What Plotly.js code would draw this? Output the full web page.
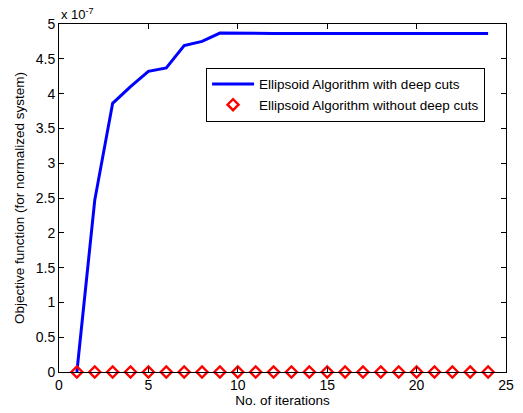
<!DOCTYPE html>
<html>
<head>
<meta charset="utf-8">
<script src="https://cdn.plot.ly/plotly-3.0.1.min.js"></script>
<style>
  html, body { margin: 0; padding: 0; background: #fff; }
  #chart { width: 523px; height: 413px; }
</style>
</head>
<body>
<div id="chart"></div>
<script>
// Iteration numbers
var iterations = [1, 2, 3, 4, 5, 6, 7, 8, 9, 10, 11, 12, 13, 14, 15, 16, 17, 18, 19, 20, 21, 22, 23, 24];
// Objective function values, in units of 1e-7
var deepCuts = [0, 2.47, 3.86, 4.10, 4.32, 4.37, 4.69, 4.75, 4.87, 4.865, 4.865, 4.865, 4.865, 4.865, 4.865, 4.865, 4.865, 4.865, 4.865, 4.865, 4.865, 4.865, 4.865, 4.865];
var noDeepCuts = [0, 0, 0, 0, 0, 0, 0, 0, 0, 0, 0, 0, 0, 0, 0, 0, 0, 0, 0, 0, 0, 0, 0, 0];
var yTickVals = [0, 0.5, 1, 1.5, 2, 2.5, 3, 3.5, 4, 4.5, 5];
var yTickText = ['0', '0.5', '1', '1.5', '2', '2.5', '3', '3.5', '4', '4.5', '5'];
var xTickVals = [0, 5, 10, 15, 20, 25];

var font = 'Liberation Sans, Arial, Helvetica, sans-serif';

var traces = [
  {
    x: iterations, y: deepCuts,
    type: 'scatter', mode: 'lines',
    name: 'Ellipsoid Algorithm with deep cuts',
    line: { color: '#0000ff', width: 3 },
    cliponaxis: false
  },
  {
    x: iterations, y: noDeepCuts,
    type: 'scatter', mode: 'markers',
    name: 'Ellipsoid Algorithm without deep cuts',
    marker: { symbol: 'diamond-open', size: 8.5, color: '#ff0000', line: { color: '#ff0000', width: 2.4 } },
    cliponaxis: false
  }
];

var axisCommon = {
  showgrid: false, zeroline: false,
  showline: true, linecolor: '#000', linewidth: 1,
  mirror: 'ticks', ticks: 'inside', ticklen: 5, tickcolor: '#000', tickwidth: 1,
  tickfont: { family: font, size: 14, color: '#000' }
};

var layout = {
  width: 523, height: 413,
  margin: { l: 59, r: 17, t: 24, b: 41 },
  paper_bgcolor: '#fff', plot_bgcolor: '#fff',
  font: { family: font, color: '#000' },
  xaxis: Object.assign({}, axisCommon, {
    range: [0, 25], tickvals: xTickVals,
    title: { text: 'No. of iterations', font: { family: font, size: 13.5 }, standoff: 1 }
  }),
  yaxis: Object.assign({}, axisCommon, {
    range: [0, 5], tickvals: yTickVals, ticktext: yTickText,
    title: { text: 'Objective function (for normalized system)', font: { family: font, size: 13.5 }, standoff: 8 }
  }),
  showlegend: true,
  legend: {
    x: 0.329, y: 0.874, xanchor: 'left', yanchor: 'top',
    bgcolor: '#fff', bordercolor: '#000', borderwidth: 1,
    font: { family: font, size: 13.5, color: '#000' },
    itemwidth: 42,
    tracegroupgap: 0
  },
  annotations: [{
    xref: 'paper', yref: 'paper', x: 0, y: 1, xanchor: 'left', yanchor: 'bottom',
    yshift: 0,
    text: 'x 10<sup>-7</sup>', showarrow: false,
    font: { family: font, size: 13, color: '#000' }
  }]
};

Plotly.newPlot('chart', traces, layout, { displayModeBar: false, staticPlot: true });
</script>
</body>
</html>
